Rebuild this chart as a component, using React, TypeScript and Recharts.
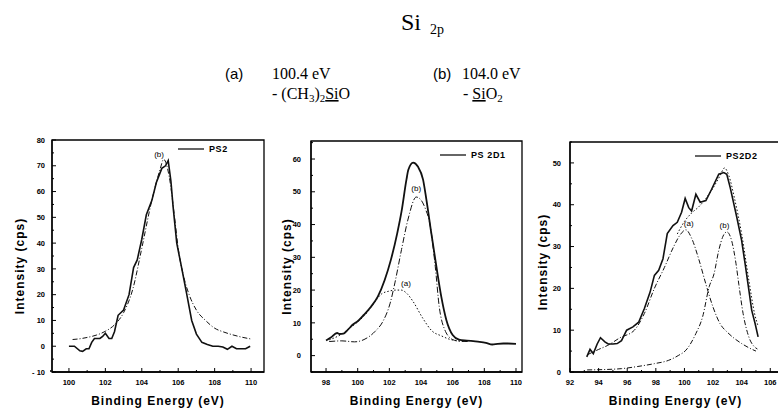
import React from 'react'
import { LineChart, Line, XAxis, YAxis, ReferenceArea, ReferenceDot } from 'recharts'

// ── PS2 ────────────────────────────────────────────────────────────
const ps2Energy = [100.0, 100.3, 100.6, 100.75, 100.95, 101.1, 101.25, 101.4, 101.7, 101.85, 102.0, 102.2, 102.35, 102.5, 102.7, 103.0, 103.3, 103.55, 103.75, 104.0, 104.25, 104.55, 104.8, 105.1, 105.3, 105.45, 105.6, 105.72, 105.92, 106.2, 106.46, 106.74, 107.0, 107.3, 107.6, 107.9, 108.2, 108.45, 108.7, 108.95, 109.2, 109.45, 109.7, 109.95]
const ps2Counts = [0, 0, -1.8, -2, -1, -1, 1.5, 3, 3, 3.8, 5, 3, 3, 5.6, 12, 14, 20, 30.5, 33.5, 41.5, 51, 56.5, 63.5, 69, 70, 72, 64, 54, 40, 30, 20.5, 10, 4.7, 1.5, 0.7, 0, 0, -0.3, -1.2, 0, -1, -1, -1, 0]
const ps2FitEnergy = [100.2, 100.5, 101, 101.5, 102, 102.5, 103, 103.5, 104, 104.5, 105, 105.2, 105.5, 105.8, 106, 106.3, 106.6, 107, 107.5, 108, 108.5, 109, 109.5, 110]
const ps2FitB = [2.6, 2.8, 3.4, 4.3, 5.8, 8.3, 13, 22, 38, 55, 68.5, 72.5, 66, 50, 38, 27, 20, 14, 10, 7, 5.5, 4.4, 3.5, 2.8]

// ── PS2D1 ──────────────────────────────────────────────────────────
const ps2d1Energy = [98.0, 98.3, 98.7, 98.85, 99.1, 99.4, 99.7, 100.0, 100.4, 100.85, 101.27, 101.7, 102.1, 102.5, 102.77, 103.08, 103.2, 103.5, 103.8, 104.13, 104.34, 104.65, 104.97, 105.28, 105.6, 106.0, 106.4, 106.9, 107.3, 107.7, 108.1, 108.5, 108.85, 109.2, 109.5, 110.0]
const ps2d1Counts = [4.6, 5.5, 6.9, 6.6, 6.7, 8, 9.5, 10.5, 12.5, 15, 18, 23, 29.3, 37.4, 44, 53.7, 56.7, 58.9, 57.7, 53.7, 47.6, 37.4, 27.2, 18, 10.9, 6.3, 4.9, 4.6, 4.4, 4.2, 3.9, 3.4, 3.6, 3.7, 3.7, 3.6]
const ps2d1FitBEnergy = [98.2, 99.0, 99.8, 100.4, 101.1, 101.6, 102.05, 102.35, 102.77, 103.2, 103.7, 104.0, 104.3, 104.55, 104.9, 105.15, 105.5, 106.0, 106.4, 107.0]
const ps2d1FitB = [4.3, 4.5, 4.2, 4.9, 7.4, 10.5, 16, 22.2, 32.4, 42, 48.4, 47.5, 44.5, 40.5, 27.2, 15, 7.9, 4.9, 4.4, 4.3]
const ps2d1FitAEnergy = [98.2, 99.0, 99.5, 100.0, 100.5, 101.0, 101.5, 102.0, 102.4, 102.75, 103.1, 103.5, 104.1, 104.7, 105.3, 105.8, 106.4, 107.0]
const ps2d1FitA = [4.8, 6.6, 8.4, 10.3, 12.6, 15.8, 18.8, 19.7, 20, 20, 19, 16.5, 11.5, 7.5, 6, 5, 4.5, 4.3]

// ── PS2D2 ──────────────────────────────────────────────────────────
const ps2d2Energy = [93.17, 93.4, 93.63, 93.9, 94.13, 94.44, 94.67, 95.0, 95.3, 95.6, 95.96, 96.4, 96.8, 97.2, 97.6, 97.9, 98.2, 98.5, 98.8, 99.2, 99.5, 99.8, 100.05, 100.3, 100.5, 100.8, 101.1, 101.5, 101.9, 102.4, 102.75, 102.96, 103.2, 103.66, 104.0, 104.24, 104.47, 104.7, 104.94, 105.15]
const ps2d2Counts = [3.6, 5.4, 4.4, 6.7, 8.2, 7.2, 6.7, 6.7, 6.8, 7.5, 10, 10.8, 11.9, 15.2, 19.1, 23.1, 24.3, 27.1, 33.1, 35, 35.8, 38.2, 41.5, 39.3, 38.5, 42.5, 40.6, 41, 43.7, 47.3, 47.7, 47.3, 44.1, 37, 31.4, 25.9, 20.4, 14.8, 11.6, 8.4]
const ps2d2FitAEnergy = [93.2, 94.0, 94.6, 95.5, 96.5, 97.2, 97.9, 98.6, 99.25, 99.7, 100.1, 100.5, 101.0, 101.5, 102.0, 102.5, 103.0, 103.5, 104.0, 104.5, 105.0]
const ps2d2FitA = [4.1, 5.4, 6.3, 8.2, 10, 14, 20, 25, 30, 32.8, 34, 32, 27, 21, 15.5, 11.5, 9.5, 8, 6.8, 5.8, 5]
const ps2d2FitBEnergy = [93.2, 94.5, 95.6, 96.7, 97.9, 98.9, 99.6, 100.1, 100.8, 101.27, 101.73, 102.07, 102.4, 102.7, 102.96, 103.3, 103.6, 103.8, 104.1, 104.5, 104.9, 105.1]
const ps2d2FitB = [0.5, 0.6, 0.8, 1.3, 2.0, 2.8, 4, 5.2, 9.2, 13.2, 20.4, 23.5, 29.1, 32.5, 33.5, 31.4, 26, 21, 14, 8.4, 6, 5.5]
const ps2d2SumEnergy = [99.5, 100, 100.5, 101, 101.5, 102, 102.5, 102.8, 103.1, 103.5, 104, 104.5, 104.9, 105.15]
const ps2d2Sum = [33, 36, 38, 39.5, 41.5, 44, 47, 48.8, 47, 41.5, 33, 22, 14, 11]

// ── ticks and peak labels ──────────────────────────────────────────
const p1XTicks = [99, 100, 101, 102, 103, 104, 105, 106, 107, 108, 109, 110]
const p1YTicks = [-10, -5, 0, 5, 10, 15, 20, 25, 30, 35, 40, 45, 50, 55, 60, 65, 70, 75, 80]
const p2XTicks = [98, 99, 100, 101, 102, 103, 104, 105, 106, 107, 108, 109, 110]
const p2YTicks = [-5, 0, 5, 10, 15, 20, 25, 30, 35, 40, 45, 50, 55, 60, 65]
const p3XTicks = [92, 93, 94, 95, 96, 97, 98, 99, 100, 101, 102, 103, 104, 105, 106]
const p3YTicks = [0, 5, 10, 15, 20, 25, 30, 35, 40, 45, 50, 55]

const p1Notes = [{ x: 104.95, y: 74.5, text: '(b)' }]
const p2Notes = [{ x: 103.7, y: 51.2, text: '(b)' }, { x: 103.05, y: 22, text: '(a)' }]
const p3Notes = [{ x: 100.3, y: 35.6, text: '(a)' }, { x: 102.8, y: 35, text: '(b)' }]

const pts = (xs: number[], ys: number[]) => xs.map((x, i) => ({ x, y: ys[i] }))

const SANS = '"Liberation Sans", Arial, sans-serif'
const SERIF = '"Liberation Serif", "Times New Roman", serif'

function XTick(props: any) {
  const { x, y, payload } = props
  const v = payload.value
  const major = v % 2 === 0
  return (
    <g>
      <line x1={x} x2={x} y1={y} y2={y - (major ? 4 : 2)} stroke="#000" strokeWidth={1} />
      {major && (
        <text x={x} y={y + 13} textAnchor="middle" fontFamily={SANS} fontWeight="bold" fontSize={7.5} fill="#000">
          {v}
        </text>
      )}
    </g>
  )
}

const makeYTick = (gap: number) => (props: any) => {
  const { x, y, payload } = props
  const v = payload.value
  const major = v % 10 === 0
  return (
    <g>
      <line x1={x} x2={x + (major ? 4 : 2)} y1={y} y2={y} stroke="#000" strokeWidth={1} />
      {major && (
        <text x={x - gap} y={y + 2.7} textAnchor="end" fontFamily={SANS} fontWeight="bold" fontSize={7.5} fill="#000">
          {v < 0 ? '- ' + Math.abs(v) : v}
        </text>
      )}
    </g>
  )
}

type Series = { data: { x: number; y: number }[]; dash?: string; width: number; type: 'linear' | 'monotone' }

function Panel(p: {
  left: number; width: number; top: number; mLeft: number; mRight: number
  xDomain: [number, number]; yDomain: [number, number]
  xTicks: number[]; yTicks: number[]; yGap: number
  yLabelOffset: number; yLabelDy: number
  series: Series[]; notes: { x: number; y: number; text: string }[]
}) {
  return (
    <div style={{ position: 'absolute', left: p.left, top: 130 }}>
      <LineChart width={p.width} height={280} margin={{ top: p.top, right: p.mRight, left: p.mLeft, bottom: 0 }}>
        <XAxis
          type="number" dataKey="x" domain={p.xDomain} allowDataOverflow ticks={p.xTicks} interval={0}
          tickSize={0} tickMargin={0} tick={XTick} height={38} axisLine={{ stroke: '#000', strokeWidth: 1.3 }}
          label={{ value: 'Binding Energy (eV)', position: 'insideBottom', offset: 5, fill: '#000',
            style: { fontFamily: SANS, fontWeight: 'bold', fontSize: 12, letterSpacing: 1 } }}
        />
        <YAxis
          type="number" dataKey="y" domain={p.yDomain} allowDataOverflow ticks={p.yTicks} interval={0}
          tickSize={0} tickMargin={0} tick={makeYTick(p.yGap)} width={30} axisLine={{ stroke: '#000', strokeWidth: 1.3 }}
          label={{ value: 'Intensity (cps)', angle: -90, position: 'insideLeft', offset: p.yLabelOffset, dy: p.yLabelDy, fill: '#000',
            style: { fontFamily: SANS, fontWeight: 'bold', fontSize: 12, letterSpacing: 1, textAnchor: 'middle' } }}
        />
        <ReferenceArea x1={p.xDomain[0]} x2={p.xDomain[1]} y1={p.yDomain[0]} y2={p.yDomain[1]} fill="none" stroke="#000" strokeWidth={1.3} fillOpacity={0} />
        {p.series.map((s, i) => (
          <Line key={i} data={s.data} dataKey="y" type={s.type} stroke="#111" strokeWidth={s.width}
            strokeDasharray={s.dash} dot={false} activeDot={false} isAnimationActive={false} />
        ))}
        {p.notes.map((n, i) => (
          <ReferenceDot key={i} x={n.x} y={n.y} r={0} fill="none" stroke="none" ifOverflow="visible"
            label={{ value: n.text, position: 'center', fontSize: 8, fontFamily: SANS, fill: '#000' }} />
        ))}
      </LineChart>
    </div>
  )
}

function LegendMark({ x, y, text }: { x: number; y: number; text: string }) {
  return (
    <g>
      <line x1={x} x2={x + 26} y1={y} y2={y} stroke="#000" strokeWidth={1.2} />
      <text x={x + 31} y={y + 3} fontFamily={SANS} fontWeight="bold" fontSize={9} letterSpacing={0.6} fill="#000">{text}</text>
    </g>
  )
}

export default function App() {
  const sub = { fontSize: 11 }
  return (
    <div style={{ position: 'fixed', left: 0, top: 0, width: 778, height: 410, overflow: 'hidden', background: '#fff' }}>
      <Panel
        left={0} width={268} top={10} mLeft={22} mRight={4}
        xDomain={[99.07, 110.71]} yDomain={[-10, 80]} xTicks={p1XTicks} yTicks={p1YTicks} yGap={7}
        yLabelOffset={-2} yLabelDy={10}
        series={[
          { data: pts(ps2Energy, ps2Counts), width: 1.6, type: 'linear' },
          { data: pts(ps2FitEnergy, ps2FitB), width: 1, dash: '5 2 1 2', type: 'monotone' },
        ]}
        notes={p1Notes}
      />
      <Panel
        left={270} width={256} top={11} mLeft={11} mRight={4}
        xDomain={[97.05, 110.38]} yDomain={[-5, 65.5]} xTicks={p2XTicks} yTicks={p2YTicks} yGap={10}
        yLabelOffset={6} yLabelDy={10}
        series={[
          { data: pts(ps2d1Energy, ps2d1Counts), width: 1.8, type: 'monotone' },
          { data: pts(ps2d1FitBEnergy, ps2d1FitB), width: 1, dash: '6 2 1 2', type: 'monotone' },
          { data: pts(ps2d1FitAEnergy, ps2d1FitA), width: 1, dash: '1.5 2', type: 'monotone' },
        ]}
        notes={p2Notes}
      />
      <Panel
        left={525} width={260} top={12} mLeft={15} mRight={4}
        xDomain={[92, 106.75]} yDomain={[0, 55]} xTicks={p3XTicks} yTicks={p3YTicks} yGap={9}
        yLabelOffset={3} yLabelDy={5}
        series={[
          { data: pts(ps2d2Energy, ps2d2Counts), width: 1.6, type: 'linear' },
          { data: pts(ps2d2FitAEnergy, ps2d2FitA), width: 1, dash: '5 2 1 2', type: 'monotone' },
          { data: pts(ps2d2FitBEnergy, ps2d2FitB), width: 1, dash: '5 2 1 2', type: 'monotone' },
          { data: pts(ps2d2SumEnergy, ps2d2Sum), width: 1, dash: '1.5 2', type: 'monotone' },
        ]}
        notes={p3Notes}
      />
      <svg width={778} height={410} style={{ position: 'absolute', left: 0, top: 0, pointerEvents: 'none' }}>
        <text x={401} y={30} fontFamily={SERIF} fontSize={24} fill="#000">Si</text>
        <text x={430} y={34} fontFamily={SERIF} fontSize={14} fill="#000">2p</text>

        <text x={225} y={79} fontFamily={SANS} fontSize={15} fill="#000">(a)</text>
        <text x={272} y={79} fontFamily={SERIF} fontSize={16} fill="#000">100.4 eV</text>
        <text x={272} y={99} fontFamily={SERIF} fontSize={16} fill="#000">
          <tspan>- (CH</tspan>
          <tspan style={sub} dy={3}>3</tspan>
          <tspan dy={-3}>)</tspan>
          <tspan style={sub} dy={3}>2</tspan>
          <tspan dy={-3} style={{ textDecoration: 'underline' }}>Si</tspan>
          <tspan>O</tspan>
        </text>

        <text x={433} y={79} fontFamily={SANS} fontSize={15} fill="#000">(b)</text>
        <text x={462} y={79} fontFamily={SERIF} fontSize={16} fill="#000">104.0 eV</text>
        <text x={463} y={99} fontFamily={SERIF} fontSize={16} fill="#000">
          <tspan>- </tspan>
          <tspan style={{ textDecoration: 'underline' }}>Si</tspan>
          <tspan>O</tspan>
          <tspan style={sub} dy={3}>2</tspan>
        </text>

        <LegendMark x={178} y={149} text="PS2" />
        <LegendMark x={440} y={155} text="PS 2D1" />
        <LegendMark x={695} y={156} text="PS2D2" />
      </svg>
    </div>
  )
}
